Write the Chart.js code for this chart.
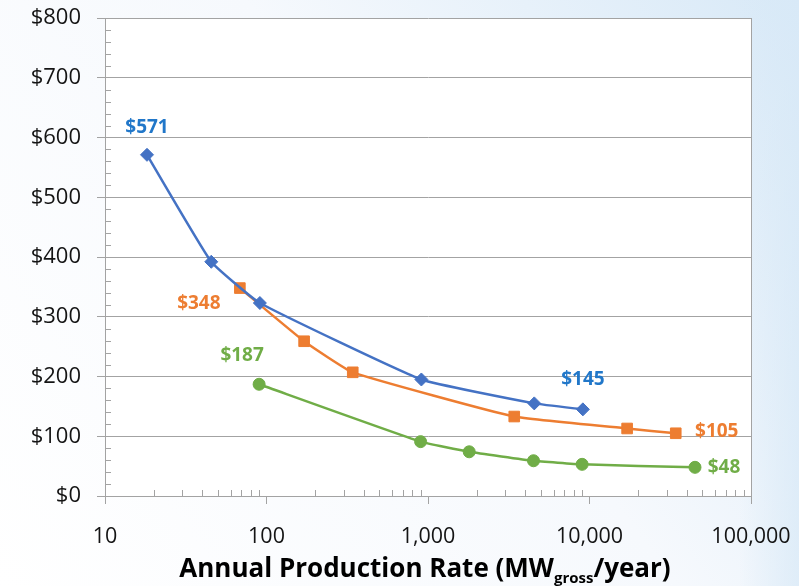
<!DOCTYPE html>
<html>
<head>
<meta charset="utf-8">
<script src="https://cdn.jsdelivr.net/npm/chart.js@4/dist/chart.umd.min.js"></script>
<style>
  html, body { margin: 0; padding: 0; background: #ffffff; }
  #wrap { width: 799px; height: 586px; }
</style>
</head>
<body>
<div id="wrap"><canvas id="chart" width="799" height="586"></canvas></div>
<script>
// Annual production rate (MW gross / year) and cost ($) for three cases
const rateBlue   = [18.2, 45.5, 91, 910, 4550, 9100];
const costBlue   = [571, 392, 323, 195, 155, 145];
const rateOrange = [68.4, 171, 342, 3420, 17100, 34200];
const costOrange = [348, 259, 207, 133, 113, 105];
const rateGreen  = [90, 900, 1800, 4500, 9000, 45000];
const costGreen  = [187, 91, 74, 59, 53, 48];

const xTickValues = [10, 100, 1000, 10000, 100000];
const yTickValues = [0, 100, 200, 300, 400, 500, 600, 700, 800];

const FONT = "'Open Sans', 'Noto Sans', sans-serif";
const GRID = '#a3a3a3';
const TEXT = '#141414';

function pairs(xs, ys) { return xs.map((x, i) => ({ x: x, y: ys[i] })); }

// value callouts: which point of which dataset, and where the text sits
const callouts = [
  { ds: 0, idx: 0, dx: 0,   dy: -22, color: '#2177c9' },
  { ds: 0, idx: 5, dx: 0,   dy: -24, color: '#2177c9' },
  { ds: 1, idx: 0, dx: -41, dy: 21,  color: '#ed7d31' },
  { ds: 1, idx: 5, dx: 41,  dy: 4,   color: '#ed7d31' },
  { ds: 2, idx: 0, dx: -17, dy: -23, color: '#70ad47' },
  { ds: 2, idx: 5, dx: 29,  dy: 6,   color: '#70ad47' }
];

const decor = {
  id: 'decor',
  beforeDraw(chart) {
    const { ctx, chartArea: a, width, height } = chart;
    ctx.save();
    const g = ctx.createLinearGradient(0, height, width, 0);
    g.addColorStop(0, '#ffffff');
    g.addColorStop(0.55, '#f6f9fd');
    g.addColorStop(1, '#d8e9f7');
    ctx.fillStyle = g;
    ctx.fillRect(0, 0, width, height);
    const g2 = ctx.createLinearGradient(width - 60, 0, width, 0);
    g2.addColorStop(0, 'rgba(216,233,247,0)');
    g2.addColorStop(1, 'rgba(216,233,247,0.7)');
    ctx.fillStyle = g2;
    ctx.fillRect(width - 60, 0, 60, height);
    ctx.fillStyle = '#ffffff';
    ctx.fillRect(a.left, a.top, a.right - a.left, a.bottom - a.top);
    ctx.restore();
  },
  beforeDatasetsDraw(chart) {
    const { ctx, chartArea: a, scales } = chart;
    const xs = scales.x, ys = scales.y;
    ctx.save();
    ctx.strokeStyle = GRID;
    ctx.lineWidth = 1;
    ctx.beginPath();
    // right frame line
    ctx.moveTo(Math.round(a.right) + 0.5, a.top);
    ctx.lineTo(Math.round(a.right) + 0.5, a.bottom + 8);
    // minor y ticks every $20, inside the plot
    for (let v = 20; v < 800; v += 20) {
      if (v % 100 === 0) continue;
      const y = Math.round(ys.getPixelForValue(v)) + 0.5;
      ctx.moveTo(a.left, y);
      ctx.lineTo(a.left + 6, y);
    }
    // minor x ticks at 2..9 of each decade, inside the plot
    for (let d = 10; d < 100000; d *= 10) {
      for (let m = 2; m <= 9; m++) {
        const x = Math.round(xs.getPixelForValue(d * m)) + 0.5;
        ctx.moveTo(x, a.bottom);
        ctx.lineTo(x, a.bottom - 6);
      }
    }
    ctx.stroke();
    ctx.restore();
  },
  afterDraw(chart) {
    const { ctx } = chart;
    ctx.save();
    // value callouts
    ctx.font = 'bold 19px ' + FONT;
    ctx.textAlign = 'center';
    ctx.textBaseline = 'alphabetic';
    callouts.forEach(c => {
      const pt = chart.getDatasetMeta(c.ds).data[c.idx];
      const v = chart.data.datasets[c.ds].data[c.idx].y;
      ctx.fillStyle = c.color;
      ctx.fillText('$' + v, pt.x + c.dx, pt.y + c.dy);
    });
    // x axis title with subscript
    const main1 = 'Annual Production Rate (MW';
    const sub = 'gross';
    const main2 = '/year)';
    const big = 'bold 26px ' + FONT;
    const small = 'bold 15px ' + FONT;
    ctx.font = big;
    const w1 = ctx.measureText(main1).width;
    const w3 = ctx.measureText(main2).width;
    ctx.font = small;
    const w2 = ctx.measureText(sub).width;
    const total = w1 + w2 + w3;
    const cx = 425, base = 577;
    let x = cx - total / 2;
    ctx.textAlign = 'left';
    ctx.fillStyle = '#000000';
    ctx.font = big;
    ctx.fillText(main1, x, base); x += w1;
    ctx.font = small;
    ctx.fillText(sub, x, base + 6); x += w2;
    ctx.font = big;
    ctx.fillText(main2, x, base);
    ctx.restore();
  }
};

const lineStyle = { borderWidth: 2.5, tension: 0.12, pointBorderWidth: 1 };

new Chart(document.getElementById('chart'), {
  type: 'line',
  data: {
    datasets: [
      Object.assign({
        label: 'Case 1', data: pairs(rateBlue, costBlue),
        borderColor: '#4472c4', backgroundColor: '#4472c4',
        pointStyle: 'rectRot', pointRadius: 6.5
      }, lineStyle),
      Object.assign({
        label: 'Case 2', data: pairs(rateOrange, costOrange),
        borderColor: '#ed7d31', backgroundColor: '#ed7d31',
        pointStyle: 'rect', pointRadius: 7.5
      }, lineStyle),
      Object.assign({
        label: 'Case 3', data: pairs(rateGreen, costGreen),
        borderColor: '#70ad47', backgroundColor: '#70ad47',
        pointStyle: 'circle', pointRadius: 6
      }, lineStyle)
    ]
  },
  options: {
    responsive: false,
    animation: false,
    events: [],
    layout: { padding: { top: 18, right: 48, left: 0, bottom: 0 } },
    plugins: { legend: { display: false }, tooltip: { enabled: false } },
    scales: {
      x: {
        type: 'logarithmic',
        min: 10, max: 100000,
        afterBuildTicks(scale) { scale.ticks = xTickValues.map(v => ({ value: v })); },
        afterFit(scale) { scale.height = 90; scale.paddingLeft = 0; scale.paddingRight = 0; },
        ticks: {
          autoSkip: false, maxRotation: 0, padding: 20,
          color: TEXT, font: { family: FONT, size: 21.5 },
          callback: v => Number(v).toLocaleString('en-US')
        },
        grid: { drawOnChartArea: false, drawTicks: true, tickLength: 8, color: GRID },
        border: { color: GRID, width: 1 }
      },
      y: {
        min: 0, max: 800,
        afterBuildTicks(scale) { scale.ticks = yTickValues.map(v => ({ value: v })); },
        afterFit(scale) { scale.width = 105; scale.paddingTop = 0; scale.paddingBottom = 0; },
        ticks: {
          padding: 16,
          color: TEXT, font: { family: FONT, size: 22 },
          callback: v => '$' + v
        },
        grid: { color: GRID, lineWidth: 1, tickLength: 8 },
        border: { color: GRID, width: 1 }
      }
    }
  },
  plugins: [decor]
});
</script>
</body>
</html>
